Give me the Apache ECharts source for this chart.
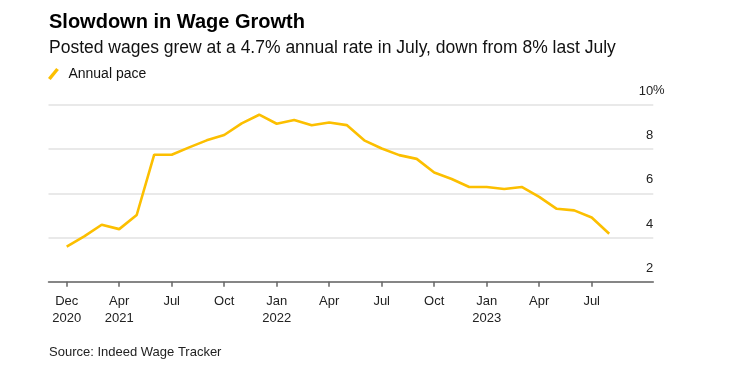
<!DOCTYPE html>
<html>
<head>
<meta charset="utf-8">
<script src="https://cdn.jsdelivr.net/npm/echarts@6/dist/echarts.min.js"></script>
<style>
  html, body { margin: 0; padding: 0; background: #fff; }
  #chart { width: 754px; height: 376px; }
</style>
</head>
<body>
<div id="chart"></div>
<script>
// monthly annual pace of posted wages, Dec 2020 .. Jul 2023
const pace = [
  3.59, 4.05, 4.58, 4.38, 5.02, 7.75, 7.75, 8.08, 8.40, 8.64, 9.17, 9.56,
  9.15, 9.32, 9.08, 9.21, 9.09, 8.40, 8.03, 7.73, 7.56, 6.94, 6.65, 6.29,
  6.29, 6.20, 6.29, 5.84, 5.30, 5.23, 4.91, 4.17
];
// x ticks: point index -> label
const tickIdx = [0, 3, 6, 9, 12, 15, 18, 21, 24, 27, 30];
const tickLabels = [
  "Dec\n2020", "Apr\n2021", "Jul", "Oct", "Jan\n2022", "Apr",
  "Jul", "Oct", "Jan\n2023", "Apr", "Jul"
];

const FONT = "Liberation Sans";
const chart = echarts.init(document.getElementById("chart"), null, { renderer: "canvas" });

chart.setOption({
  backgroundColor: "#fff",
  animation: false,
  textStyle: { fontFamily: FONT },
  title: [
    {
      text: "Slowdown in Wage Growth",
      left: 49, top: 12, padding: 0,
      textStyle: { fontSize: 20, fontWeight: "bold", color: "#000", fontFamily: FONT }
    },
    {
      text: "Posted wages grew at a 4.7% annual rate in July, down from 8% last July",
      left: 49, top: 39, padding: 0,
      textStyle: { fontSize: 17.5, fontWeight: "normal", color: "#111", fontFamily: FONT }
    },
    {
      text: "Source: Indeed Wage Tracker",
      left: 49, top: 346, padding: 0,
      textStyle: { fontSize: 13, fontWeight: "normal", color: "#222", fontFamily: FONT }
    }
  ],
  legend: {
    left: 48, top: 67, padding: 0,
    itemWidth: 12, itemHeight: 12, itemGap: 9,
    icon: "path://M0,10.4 L8.6,0 L11.4,2.2 L2.8,12.6 Z",
    textStyle: { fontSize: 14, color: "#111", fontFamily: FONT, padding: [0, 0, 0, 4] },
    data: ["Annual pace"]
  },
  graphic: [
    {
      type: "text", left: 653, top: 84,
      style: { text: "%", font: "13px " + FONT, fill: "#222" }
    }
  ],
  grid: { left: 48.5, right: 100.7, top: 105, bottom: 94.3, containLabel: false },
  xAxis: {
    type: "value",
    min: -1.04, max: 33.52,
    axisLine: { show: true, onZero: false, lineStyle: { color: "#666", width: 1.5 } },
    axisTick: { show: true, length: 5, customValues: tickIdx, lineStyle: { color: "#666", width: 1.5 } },
    splitLine: { show: false },
    axisLabel: {
      customValues: tickIdx,
      margin: 11,
      fontSize: 13, lineHeight: 17, color: "#222", fontFamily: FONT,
      formatter: v => tickLabels[tickIdx.indexOf(Math.round(v))] || ""
    }
  },
  yAxis: {
    type: "value",
    position: "right",
    min: 2, max: 10, interval: 2,
    axisLine: { show: false },
    axisTick: { show: false },
    splitLine: { show: true, lineStyle: { color: "#e2e2e2", width: 1.5 } },
    axisLabel: {
      inside: true, margin: 0,
      fontSize: 13, lineHeight: 13, color: "#222", fontFamily: FONT,
      verticalAlign: "bottom", padding: [0, 0, 7, 0],
      formatter: v => String(v)
    }
  },
  series: [
    {
      name: "Annual pace",
      type: "line",
      data: pace.map((v, i) => [i, v]),
      showSymbol: false,
      symbol: "none",
      lineStyle: { color: "#fcbf00", width: 2.6 },
      itemStyle: { color: "#fcbf00" }
    }
  ]
});
</script>
</body>
</html>
